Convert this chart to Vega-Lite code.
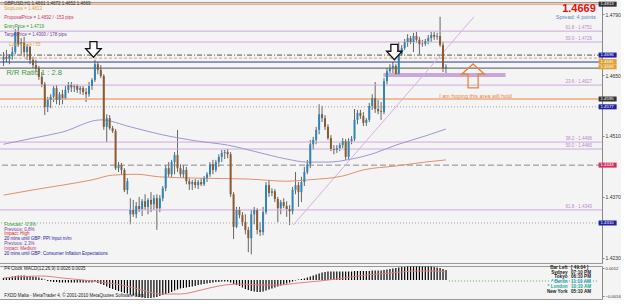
{
"$schema": "https://vega.github.io/schema/vega-lite/v6.json",
"background": "#f4f4f4",
"padding": {"left": -5, "top": 0, "right": 0, "bottom": 0},
"spacing": 0,
"resolve": {"scale": {"color": "independent"}},
"config": {"view": {"stroke": "#9a9a9a"}, "font": "Liberation Sans"},
"datasets": {
"candles": [
{"i":0,"o":1.4685,"h":1.4703,"l":1.4671,"c":1.4692,"m":0.0002},
{"i":1,"o":1.4692,"h":1.4708,"l":1.4680,"c":1.4687,"m":0.00025},
{"i":2,"o":1.4687,"h":1.4698,"l":1.4675,"c":1.4694,"m":0.0003},
{"i":3,"o":1.4694,"h":1.4715,"l":1.4685,"c":1.4703,"m":0.00035},
{"i":4,"o":1.4703,"h":1.4756,"l":1.4698,"c":1.4749,"m":0.0004},
{"i":5,"o":1.4749,"h":1.4761,"l":1.4715,"c":1.4721,"m":0.00045},
{"i":6,"o":1.4721,"h":1.4735,"l":1.4698,"c":1.4726,"m":0.00045},
{"i":7,"o":1.4726,"h":1.4738,"l":1.4692,"c":1.4703,"m":0.00045},
{"i":8,"o":1.4703,"h":1.4721,"l":1.4685,"c":1.4715,"m":0.0004},
{"i":9,"o":1.4715,"h":1.4717,"l":1.4675,"c":1.4685,"m":0.0004},
{"i":10,"o":1.4685,"h":1.4692,"l":1.4666,"c":1.4673,"m":0.00035},
{"i":11,"o":1.4673,"h":1.4685,"l":1.4657,"c":1.4666,"m":0.0003},
{"i":12,"o":1.4666,"h":1.4671,"l":1.4639,"c":1.4646,"m":0.00025},
{"i":13,"o":1.4646,"h":1.4657,"l":1.4622,"c":1.4629,"m":0.00015},
{"i":14,"o":1.4629,"h":1.4634,"l":1.4558,"c":1.4577,"m":0.00005},
{"i":15,"o":1.4577,"h":1.4600,"l":1.4565,"c":1.4593,"m":-0.0001},
{"i":16,"o":1.4593,"h":1.4606,"l":1.4574,"c":1.4600,"m":-0.00015},
{"i":17,"o":1.4600,"h":1.4625,"l":1.4588,"c":1.4620,"m":-0.0002},
{"i":18,"o":1.4620,"h":1.4627,"l":1.4583,"c":1.4593,"m":-0.0002},
{"i":19,"o":1.4593,"h":1.4611,"l":1.4581,"c":1.4606,"m":-0.00025},
{"i":20,"o":1.4606,"h":1.4616,"l":1.4583,"c":1.4597,"m":-0.00025},
{"i":21,"o":1.4597,"h":1.4625,"l":1.4593,"c":1.4616,"m":-0.00025},
{"i":22,"o":1.4616,"h":1.4634,"l":1.4609,"c":1.4627,"m":-0.00025},
{"i":23,"o":1.4627,"h":1.4634,"l":1.4611,"c":1.4622,"m":-0.00025},
{"i":24,"o":1.4622,"h":1.4629,"l":1.4611,"c":1.4625,"m":-0.00025},
{"i":25,"o":1.4625,"h":1.4629,"l":1.4609,"c":1.4616,"m":-0.00025},
{"i":26,"o":1.4616,"h":1.4625,"l":1.4606,"c":1.4620,"m":-0.00025},
{"i":27,"o":1.4620,"h":1.4625,"l":1.4604,"c":1.4611,"m":-0.00025},
{"i":28,"o":1.4611,"h":1.4620,"l":1.4588,"c":1.4606,"m":-0.00025},
{"i":29,"o":1.4606,"h":1.4634,"l":1.4600,"c":1.4625,"m":-0.00025},
{"i":30,"o":1.4625,"h":1.4643,"l":1.4616,"c":1.4639,"m":-0.00025},
{"i":31,"o":1.4639,"h":1.4685,"l":1.4634,"c":1.4675,"m":-0.0002},
{"i":32,"o":1.4675,"h":1.4680,"l":1.4652,"c":1.4662,"m":-0.0003},
{"i":33,"o":1.4662,"h":1.4673,"l":1.4643,"c":1.4648,"m":-0.0004},
{"i":34,"o":1.4648,"h":1.4652,"l":1.4524,"c":1.4531,"m":-0.0005},
{"i":35,"o":1.4531,"h":1.4560,"l":1.4496,"c":1.4551,"m":-0.00065},
{"i":36,"o":1.4551,"h":1.4558,"l":1.4524,"c":1.4528,"m":-0.0008},
{"i":37,"o":1.4528,"h":1.4533,"l":1.4517,"c":1.4521,"m":-0.0009},
{"i":38,"o":1.4521,"h":1.4526,"l":1.4432,"c":1.4436,"m":-0.001},
{"i":39,"o":1.4436,"h":1.4450,"l":1.4427,"c":1.4443,"m":-0.0011},
{"i":40,"o":1.4443,"h":1.4448,"l":1.4422,"c":1.4432,"m":-0.0012},
{"i":41,"o":1.4432,"h":1.4436,"l":1.4381,"c":1.4386,"m":-0.0013},
{"i":42,"o":1.4386,"h":1.4413,"l":1.4376,"c":1.4406,"m":-0.00135},
{"i":43,"o":1.4330,"h":1.4367,"l":1.4307,"c":1.4340,"m":-0.00145},
{"i":44,"o":1.4340,"h":1.4363,"l":1.4324,"c":1.4330,"m":-0.00155},
{"i":45,"o":1.4330,"h":1.4358,"l":1.4321,"c":1.4349,"m":-0.0016},
{"i":46,"o":1.4349,"h":1.4370,"l":1.4335,"c":1.4342,"m":-0.0017},
{"i":47,"o":1.4342,"h":1.4365,"l":1.4326,"c":1.4360,"m":-0.00175},
{"i":48,"o":1.4360,"h":1.4376,"l":1.4340,"c":1.4347,"m":-0.0018},
{"i":49,"o":1.4347,"h":1.4367,"l":1.4330,"c":1.4363,"m":-0.0018},
{"i":50,"o":1.4363,"h":1.4381,"l":1.4335,"c":1.4353,"m":-0.0018},
{"i":51,"o":1.4353,"h":1.4374,"l":1.4340,"c":1.4367,"m":-0.00175},
{"i":52,"o":1.4367,"h":1.4376,"l":1.4294,"c":1.4344,"m":-0.0017},
{"i":53,"o":1.4344,"h":1.4374,"l":1.4335,"c":1.4367,"m":-0.0016},
{"i":54,"o":1.4367,"h":1.4395,"l":1.4360,"c":1.4390,"m":-0.0015},
{"i":55,"o":1.4390,"h":1.4443,"l":1.4383,"c":1.4436,"m":-0.0014},
{"i":56,"o":1.4436,"h":1.4450,"l":1.4416,"c":1.4422,"m":-0.0013},
{"i":57,"o":1.4422,"h":1.4455,"l":1.4416,"c":1.4450,"m":-0.0012},
{"i":58,"o":1.4450,"h":1.4473,"l":1.4422,"c":1.4466,"m":-0.00105},
{"i":59,"o":1.4466,"h":1.4524,"l":1.4427,"c":1.4436,"m":-0.00095},
{"i":60,"o":1.4436,"h":1.4445,"l":1.4416,"c":1.4422,"m":-0.00085},
{"i":61,"o":1.4422,"h":1.4443,"l":1.4413,"c":1.4432,"m":-0.0008},
{"i":62,"o":1.4432,"h":1.4439,"l":1.4399,"c":1.4406,"m":-0.00075},
{"i":63,"o":1.4406,"h":1.4413,"l":1.4386,"c":1.4399,"m":-0.0007},
{"i":64,"o":1.4399,"h":1.4409,"l":1.4386,"c":1.4404,"m":-0.00065},
{"i":65,"o":1.4404,"h":1.4411,"l":1.4390,"c":1.4397,"m":-0.0006},
{"i":66,"o":1.4397,"h":1.4409,"l":1.4388,"c":1.4404,"m":-0.0005},
{"i":67,"o":1.4404,"h":1.4413,"l":1.4395,"c":1.4399,"m":-0.00045},
{"i":68,"o":1.4399,"h":1.4418,"l":1.4395,"c":1.4413,"m":-0.0004},
{"i":69,"o":1.4413,"h":1.4427,"l":1.4404,"c":1.4422,"m":-0.00035},
{"i":70,"o":1.4422,"h":1.4450,"l":1.4416,"c":1.4445,"m":-0.0003},
{"i":71,"o":1.4445,"h":1.4455,"l":1.4422,"c":1.4432,"m":-0.00025},
{"i":72,"o":1.4432,"h":1.4455,"l":1.4427,"c":1.4450,"m":-0.0002},
{"i":73,"o":1.4450,"h":1.4468,"l":1.4439,"c":1.4462,"m":-0.0002},
{"i":74,"o":1.4462,"h":1.4478,"l":1.4450,"c":1.4471,"m":-0.00015},
{"i":75,"o":1.4471,"h":1.4478,"l":1.4457,"c":1.4473,"m":-0.00015},
{"i":76,"o":1.4473,"h":1.4480,"l":1.4459,"c":1.4468,"m":-0.00015},
{"i":77,"o":1.4468,"h":1.4473,"l":1.4370,"c":1.4376,"m":-0.00025},
{"i":78,"o":1.4376,"h":1.4381,"l":1.4273,"c":1.4301,"m":-0.0004},
{"i":79,"o":1.4301,"h":1.4347,"l":1.4298,"c":1.4340,"m":-0.0005},
{"i":80,"o":1.4340,"h":1.4347,"l":1.4321,"c":1.4328,"m":-0.0006},
{"i":81,"o":1.4328,"h":1.4335,"l":1.4303,"c":1.4312,"m":-0.00075},
{"i":82,"o":1.4312,"h":1.4330,"l":1.4284,"c":1.4294,"m":-0.0009},
{"i":83,"o":1.4294,"h":1.4301,"l":1.4243,"c":1.4275,"m":-0.001},
{"i":84,"o":1.4275,"h":1.4340,"l":1.4238,"c":1.4330,"m":-0.0011},
{"i":85,"o":1.4330,"h":1.4347,"l":1.4307,"c":1.4340,"m":-0.00115},
{"i":86,"o":1.4340,"h":1.4344,"l":1.4284,"c":1.4294,"m":-0.0012},
{"i":87,"o":1.4294,"h":1.4312,"l":1.4280,"c":1.4289,"m":-0.0012},
{"i":88,"o":1.4289,"h":1.4347,"l":1.4282,"c":1.4335,"m":-0.00115},
{"i":89,"o":1.4335,"h":1.4404,"l":1.4330,"c":1.4397,"m":-0.00105},
{"i":90,"o":1.4397,"h":1.4409,"l":1.4370,"c":1.4379,"m":-0.00095},
{"i":91,"o":1.4379,"h":1.4390,"l":1.4372,"c":1.4383,"m":-0.00085},
{"i":92,"o":1.4383,"h":1.4388,"l":1.4358,"c":1.4365,"m":-0.00075},
{"i":93,"o":1.4365,"h":1.4370,"l":1.4312,"c":1.4344,"m":-0.00065},
{"i":94,"o":1.4344,"h":1.4363,"l":1.4330,"c":1.4358,"m":-0.00055},
{"i":95,"o":1.4358,"h":1.4367,"l":1.4344,"c":1.4349,"m":-0.00045},
{"i":96,"o":1.4349,"h":1.4360,"l":1.4324,"c":1.4342,"m":-0.00035},
{"i":97,"o":1.4342,"h":1.4351,"l":1.4305,"c":1.4337,"m":-0.00025},
{"i":98,"o":1.4337,"h":1.4393,"l":1.4330,"c":1.4386,"m":-0.00015},
{"i":99,"o":1.4386,"h":1.4427,"l":1.4376,"c":1.4397,"m":-0.00005},
{"i":100,"o":1.4397,"h":1.4404,"l":1.4347,"c":1.4381,"m":0.00005},
{"i":101,"o":1.4381,"h":1.4416,"l":1.4358,"c":1.4404,"m":0.0001},
{"i":102,"o":1.4404,"h":1.4439,"l":1.4395,"c":1.4427,"m":0.00015},
{"i":103,"o":1.4427,"h":1.4455,"l":1.4422,"c":1.4445,"m":0.00025},
{"i":104,"o":1.4445,"h":1.4501,"l":1.4436,"c":1.4491,"m":0.00035},
{"i":105,"o":1.4491,"h":1.4508,"l":1.4478,"c":1.4501,"m":0.00045},
{"i":106,"o":1.4501,"h":1.4531,"l":1.4491,"c":1.4524,"m":0.00055},
{"i":107,"o":1.4524,"h":1.4583,"l":1.4514,"c":1.4560,"m":0.00065},
{"i":108,"o":1.4560,"h":1.4579,"l":1.4542,"c":1.4551,"m":0.00075},
{"i":109,"o":1.4551,"h":1.4558,"l":1.4524,"c":1.4531,"m":0.0008},
{"i":110,"o":1.4531,"h":1.4537,"l":1.4501,"c":1.4505,"m":0.00085},
{"i":111,"o":1.4505,"h":1.4512,"l":1.4475,"c":1.4480,"m":0.00085},
{"i":112,"o":1.4480,"h":1.4489,"l":1.4468,"c":1.4478,"m":0.00085},
{"i":113,"o":1.4478,"h":1.4489,"l":1.4471,"c":1.4482,"m":0.00085},
{"i":114,"o":1.4482,"h":1.4494,"l":1.4475,"c":1.4489,"m":0.00085},
{"i":115,"o":1.4489,"h":1.4505,"l":1.4482,"c":1.4498,"m":0.00085},
{"i":116,"o":1.4498,"h":1.4503,"l":1.4455,"c":1.4462,"m":0.00085},
{"i":117,"o":1.4462,"h":1.4505,"l":1.4457,"c":1.4498,"m":0.00085},
{"i":118,"o":1.4498,"h":1.4510,"l":1.4491,"c":1.4503,"m":0.00085},
{"i":119,"o":1.4503,"h":1.4572,"l":1.4498,"c":1.4547,"m":0.0009},
{"i":120,"o":1.4547,"h":1.4570,"l":1.4537,"c":1.4563,"m":0.0009},
{"i":121,"o":1.4563,"h":1.4570,"l":1.4549,"c":1.4556,"m":0.0009},
{"i":122,"o":1.4556,"h":1.4565,"l":1.4533,"c":1.4540,"m":0.0009},
{"i":123,"o":1.4540,"h":1.4551,"l":1.4533,"c":1.4547,"m":0.0009},
{"i":124,"o":1.4547,"h":1.4586,"l":1.4542,"c":1.4579,"m":0.0009},
{"i":125,"o":1.4579,"h":1.4606,"l":1.4570,"c":1.4597,"m":0.00095},
{"i":126,"o":1.4597,"h":1.4634,"l":1.4563,"c":1.4572,"m":0.00095},
{"i":127,"o":1.4572,"h":1.4593,"l":1.4560,"c":1.4567,"m":0.00095},
{"i":128,"o":1.4567,"h":1.4588,"l":1.4547,"c":1.4565,"m":0.00095},
{"i":129,"o":1.4565,"h":1.4643,"l":1.4560,"c":1.4636,"m":0.001},
{"i":130,"o":1.4636,"h":1.4666,"l":1.4629,"c":1.4659,"m":0.00105},
{"i":131,"o":1.4659,"h":1.4675,"l":1.4648,"c":1.4666,"m":0.0011},
{"i":132,"o":1.4666,"h":1.4680,"l":1.4652,"c":1.4671,"m":0.00115},
{"i":133,"o":1.4671,"h":1.4675,"l":1.4648,"c":1.4652,"m":0.0012},
{"i":134,"o":1.4652,"h":1.4726,"l":1.4648,"c":1.4698,"m":0.00125},
{"i":135,"o":1.4698,"h":1.4719,"l":1.4694,"c":1.4712,"m":0.0013},
{"i":136,"o":1.4712,"h":1.4733,"l":1.4708,"c":1.4726,"m":0.0013},
{"i":137,"o":1.4726,"h":1.4744,"l":1.4715,"c":1.4735,"m":0.00135},
{"i":138,"o":1.4735,"h":1.4740,"l":1.4721,"c":1.4726,"m":0.00135},
{"i":139,"o":1.4726,"h":1.4747,"l":1.4703,"c":1.4740,"m":0.00135},
{"i":140,"o":1.4740,"h":1.4749,"l":1.4724,"c":1.4731,"m":0.00135},
{"i":141,"o":1.4731,"h":1.4738,"l":1.4698,"c":1.4721,"m":0.00135},
{"i":142,"o":1.4721,"h":1.4731,"l":1.4715,"c":1.4722,"m":0.00135},
{"i":143,"o":1.4722,"h":1.4733,"l":1.4717,"c":1.4728,"m":0.00135},
{"i":144,"o":1.4728,"h":1.4742,"l":1.4721,"c":1.4735,"m":0.00135},
{"i":145,"o":1.4735,"h":1.4749,"l":1.4726,"c":1.4742,"m":0.00135},
{"i":146,"o":1.4742,"h":1.4749,"l":1.4731,"c":1.4738,"m":0.0013},
{"i":147,"o":1.4738,"h":1.4747,"l":1.4731,"c":1.4740,"m":0.00125},
{"i":148,"o":1.4740,"h":1.4784,"l":1.4715,"c":1.4719,"m":0.0012},
{"i":149,"o":1.4719,"h":1.4726,"l":1.4657,"c":1.4666,"m":0.0011},
{"i":150,"o":1.4666,"h":1.4675,"l":1.4646,"c":1.4669,"m":0.001}
],
"signal": [
{"i":0,"s":0.0002},{"i":7,"s":0.00035},{"i":13,"s":0.0004},{"i":20,"s":0.0002},{"i":27,"s":0},{"i":33,"s":-0.0002},{"i":40,"s":-0.0005},{"i":47,"s":-0.001},{"i":53,"s":-0.0014},{"i":60,"s":-0.0014},{"i":67,"s":-0.001},{"i":73,"s":-0.0006},{"i":80,"s":-0.0004},{"i":87,"s":-0.0005},{"i":93,"s":-0.0005},{"i":100,"s":-0.0003},{"i":107,"s":-0.0001},{"i":113,"s":0.0001},{"i":120,"s":0.0004},{"i":127,"s":0.0006},{"i":133,"s":0.00075},{"i":140,"s":0.0009},{"i":146,"s":0.0009},{"i":150,"s":0.0008}
],
"maSlow": [
{"i":0,"p":1.4491},{"i":10,"p":1.4505},{"i":20,"p":1.4519},{"i":33,"p":1.4547},{"i":43,"p":1.4531},{"i":53,"p":1.4514},{"i":66,"p":1.4498},{"i":76,"p":1.4489},{"i":86,"p":1.4473},{"i":96,"p":1.4457},{"i":103,"p":1.4450},{"i":110,"p":1.4450},{"i":118,"p":1.4457},{"i":126,"p":1.4471},{"i":133,"p":1.4489},{"i":143,"p":1.4510},{"i":150,"p":1.4526}
],
"maOrange": [
{"i":0,"p":1.4374},{"i":10,"p":1.4386},{"i":20,"p":1.4397},{"i":30,"p":1.4409},{"i":37,"p":1.4420},{"i":45,"p":1.4422},{"i":53,"p":1.4416},{"i":66,"p":1.4413},{"i":83,"p":1.4411},{"i":96,"p":1.4406},{"i":103,"p":1.4409},{"i":115,"p":1.4418},{"i":122,"p":1.4432},{"i":133,"p":1.4441},{"i":143,"p":1.4450},{"i":150,"p":1.4455}
],
"leftText": [
{"t":"GBPUSD,H1  1.4661 1.4672 1.4652 1.4669","i":0.3,"p":1.4813,"k":"a"},
{"t":"StopLoss = 1.4813","i":0.3,"p":1.4801,"k":"b"},
{"t":"ProposalPrice = 1.4692 / -153 pips","i":0.3,"p":1.4781,"k":"c"},
{"t":"EntryPrice = 1.4719","i":0.3,"p":1.4761,"k":"d"},
{"t":"TargetPrice = 1.4300 / 178 pips","i":0.3,"p":1.4742,"k":"e"},
{"t":"Lots = 0.14 / 55","i":2,"p":1.4719,"k":"b"},
{"t":"Forecast: -0.9%","i":0.3,"p":1.4305,"k":"d"},
{"t":"Previous: 0.8%","i":0.3,"p":1.4294,"k":"e"},
{"t":"Impact: High","i":0.3,"p":1.4284,"k":"f"},
{"t":"20 mins until GBP: PPI Input m/m","i":0.3,"p":1.4273,"k":"g"},
{"t":"Previous: 2.3%","i":0.3,"p":1.4261,"k":"e"},
{"t":"Impact: Medium","i":0.3,"p":1.4250,"k":"c"},
{"t":"20 mins until GBP: Consumer Inflation Expectations","i":0.3,"p":1.4238,"k":"g"}
],
"fibText": [
{"t":"61.8 - 1.4751","i":199.5,"p":1.4758},
{"t":"50.0 - 1.4726","i":199.5,"p":1.4733},
{"t":"23.6 - 1.4627","i":199.5,"p":1.4634},
{"t":"38.2 - 1.4496","i":199.5,"p":1.4503},
{"t":"50.0 - 1.4480","i":199.5,"p":1.4487},
{"t":"61.8 - 1.4340","i":199.5,"p":1.4347}
],
"priceTags": [
{"p":1.4813,"k":"o"},{"p":1.4696,"k":"g"},{"p":1.4681,"k":"b"},{"p":1.4669,"k":"k"},{"p":1.4595,"k":"o"},{"p":1.4577,"k":"g"},{"p":1.4443,"k":"s"},{"p":1.4310,"k":"g"}
],
"clock": [
{"n":"Bar Left","v":"[ 49:04 ]","m":0.0012,"k":"a"},
{"n":"Sydney","v":"07:10 PM","m":0.00075,"k":"a"},
{"n":"Tokyo","v":"06:10 PM","m":0.0003,"k":"a"},
{"n":"* Berlin","v":"11:10 AM","m":-0.0002,"k":"b"},
{"n":"* London","v":"10:10 AM","m":-0.0007,"k":"c"},
{"n":"New York","v":"05:10 AM","m":-0.0012,"k":"a"}
]
},
"vconcat": [
{
"width": 605, "height": 261,
"layer": [
{"data": {"name":"candles"},
 "mark": {"type":"rule","color":"#666666","strokeWidth":1},
 "encoding": {"x":{"field":"i","type":"quantitative","scale":{"domain":[-0.5,201.2],"nice":false,"zero":false},"axis":null},
  "y":{"field":"l","type":"quantitative","scale":{"domain":[1.4218,1.4818],"zero":false,"nice":false},"axis":{"orient":"right","values":[1.4790,1.4755,1.4720,1.4685,1.4650,1.4615,1.4580,1.4545,1.4510,1.4475,1.4440,1.4405,1.4370,1.4335,1.4300,1.4265,1.4230],"format":".4f","title":null,"labelOverlap":false,"labelFontSize":5,"tickSize":2,"labelPadding":1,"grid":false,"domainColor":"#888","tickColor":"#888","labelColor":"#333"}},"y2":{"field":"h"}}},
{"data": {"values": [{"p":1.4751},{"p":1.4726},{"p":1.4627},{"p":1.4496},{"p":1.4480},{"p":1.4340}]},
 "mark": {"type":"rule","color":"#cfa8dc","strokeWidth":1},
 "encoding": {"y":{"field":"p","type":"quantitative"}}},
{"data": {"values": [{"p":1.4813},{"p":1.4595}]},
 "mark": {"type":"rule","color":"#eeaa80","strokeWidth":1.5},
 "encoding": {"y":{"field":"p","type":"quantitative"}}},
{"data": {"values": [{"p":1.4696}]},
 "mark": {"type":"rule","color":"#555555","strokeWidth":1,"strokeDash":[5,2,1,2]},
 "encoding": {"y":{"field":"p","type":"quantitative"}}},
{"data": {"values": [{"p":1.4689}]},
 "mark": {"type":"rule","color":"#d9a066","strokeWidth":1,"strokeDash":[3,2]},
 "encoding": {"y":{"field":"p","type":"quantitative"}}},
{"data": {"values": [{"p":1.4680}]},
 "mark": {"type":"rule","color":"#1f3fa0","strokeWidth":1},
 "encoding": {"y":{"field":"p","type":"quantitative"}}},
{"data": {"values": [{"p":1.4666}]},
 "mark": {"type":"rule","color":"#555555","strokeWidth":1},
 "encoding": {"y":{"field":"p","type":"quantitative"}}},
{"data": {"values": [{"p":1.4577},{"p":1.4310}]},
 "mark": {"type":"rule","color":"#a0a0a0","strokeWidth":1,"strokeDash":[1,2]},
 "encoding": {"y":{"field":"p","type":"quantitative"}}},
{"data": {"values": [{"p":1.4443}]},
 "mark": {"type":"rule","color":"#8a8a8a","strokeWidth":1,"strokeDash":[6,3]},
 "encoding": {"y":{"field":"p","type":"quantitative"}}},
{"data": {"values": [{"a":128.8,"b":170.2,"p":1.4650}]},
 "mark": {"type":"rule","color":"#c9a7d9","strokeWidth":4},
 "encoding": {"x":{"field":"a","type":"quantitative","axis":null},"x2":{"field":"b"},"y":{"field":"p","type":"quantitative"}}},
{"data": {"values": [{"i":98.2,"p":1.4305},{"i":159.5,"p":1.4784}]},
 "mark": {"type":"line","color":"#dcaee6","strokeWidth":1},
 "encoding": {"x":{"field":"i","type":"quantitative","axis":null},"y":{"field":"p","type":"quantitative"}}},
{"data": {"name":"maSlow"},
 "mark": {"type":"line","color":"#a196d0","strokeWidth":1,"interpolate":"monotone"},
 "encoding": {"x":{"field":"i","type":"quantitative","axis":null},"y":{"field":"p","type":"quantitative"}}},
{"data": {"name":"maOrange"},
 "mark": {"type":"line","color":"#e0906e","strokeWidth":1,"interpolate":"monotone"},
 "encoding": {"x":{"field":"i","type":"quantitative","axis":null},"y":{"field":"p","type":"quantitative"}}},
{"data": {"name":"candles"},
 "mark": {"type":"bar","size":2},
 "encoding": {"x":{"field":"i","type":"quantitative","axis":null},"y":{"field":"o","type":"quantitative"},"y2":{"field":"c"},
  "color":{"condition":{"test":"datum.c >= datum.o","value":"#2f86b6"},"value":"#8a5a30"}}},
{"data": {"values": [{"i":30.5,"p":1.4709},{"i":132.5,"p":1.4703}]},
 "mark": {"type":"point","shape":"M-0.45,-1 L0.45,-1 L0.45,-0.1 L1,-0.1 L0,1 L-1,-0.1 L-0.45,-0.1 Z","size":240,"filled":true,"fill":"#ffffff","stroke":"#111111","strokeWidth":1.3,"opacity":1},
 "encoding": {"x":{"field":"i","type":"quantitative","axis":null},"y":{"field":"p","type":"quantitative"}}},
{"data": {"values": [{"i":159.2,"p":1.4648}]},
 "mark": {"type":"point","shape":"M0,-1 L0.95,-0.15 L0.42,-0.15 L0.42,1 L-0.42,1 L-0.42,-0.15 L-0.95,-0.15 Z","size":576,"filled":false,"stroke":"#e8843a","strokeWidth":1.3,"opacity":1},
 "encoding": {"x":{"field":"i","type":"quantitative","axis":null},"y":{"field":"p","type":"quantitative"}}},
{"data": {"name":"leftText"},
 "mark": {"type":"text","align":"left","baseline":"middle","fontSize":4.5},
 "encoding": {"x":{"field":"i","type":"quantitative","axis":null},"y":{"field":"p","type":"quantitative"},"text":{"field":"t"},
  "color":{"field":"k","type":"nominal","legend":null,"scale":{"domain":["a","b","c","d","e","f","g"],"range":["#333333","#e0a030","#d03060","#2a9a2a","#7a3a9a","#e02020","#2020a0"]}}}},
{"data": {"values": [{"t":"R/R Ratio  1 : 2.8","i":1,"p":1.4655}]},
 "mark": {"type":"text","align":"left","baseline":"middle","fontSize":7.5,"color":"#3a9a3a"},
 "encoding": {"x":{"field":"i","type":"quantitative","axis":null},"y":{"field":"p","type":"quantitative"},"text":{"field":"t"}}},
{"data": {"name":"fibText"},
 "mark": {"type":"text","align":"right","baseline":"middle","fontSize":4.5,"color":"#b88ac8"},
 "encoding": {"x":{"field":"i","type":"quantitative","axis":null},"y":{"field":"p","type":"quantitative"},"text":{"field":"t"}}},
{"data": {"values": [{"t":"1.4669","i":200.8,"p":1.4801}]},
 "mark": {"type":"text","align":"right","baseline":"middle","fontSize":11,"fontWeight":"bold","color":"#e01010"},
 "encoding": {"x":{"field":"i","type":"quantitative","axis":null},"y":{"field":"p","type":"quantitative"},"text":{"field":"t"}}},
{"data": {"values": [{"t":"Spread: 4 points","i":200.8,"p":1.4784}]},
 "mark": {"type":"text","align":"right","baseline":"middle","fontSize":5.5,"color":"#5a88b8"},
 "encoding": {"x":{"field":"i","type":"quantitative","axis":null},"y":{"field":"p","type":"quantitative"},"text":{"field":"t"}}},
{"data": {"values": [{"t":"I am hoping this area will hold","i":160,"p":1.4603}]},
 "mark": {"type":"text","align":"center","baseline":"middle","fontSize":5.5,"color":"#e8843a"},
 "encoding": {"x":{"field":"i","type":"quantitative","axis":null},"y":{"field":"p","type":"quantitative"},"text":{"field":"t"}}},
{"data": {"name":"priceTags"},
 "mark": {"type":"tick","orient":"horizontal","size":18,"thickness":5,"opacity":1},
 "encoding": {"x":{"datum":204.8,"type":"quantitative","axis":null},"y":{"field":"p","type":"quantitative"},
  "color":{"field":"k","type":"nominal","legend":null,"scale":{"domain":["o","g","b","k","s"],"range":["#f08a50","#a8a8a8","#2a50c8","#000000","#7f90a8"]}}}},
{"data": {"name":"priceTags"},
 "mark": {"type":"text","align":"left","baseline":"middle","fontSize":4.3,"color":"#ffffff"},
 "encoding": {"x":{"datum":202.4,"type":"quantitative","axis":null},"y":{"field":"p","type":"quantitative"},"text":{"field":"p","type":"quantitative","format":".4f"}}}
]
},
{
"width": 605, "height": 33,
"layer": [
{"data": {"name":"candles"},
 "mark": {"type":"bar","size":1.2,"color":"#000000"},
 "encoding": {"x":{"field":"i","type":"quantitative","scale":{"domain":[-0.5,201.2],"nice":false,"zero":false},
   "axis":{"orient":"bottom","values":[0,7,15,23,31,39,47,55,63,71,79,87,95,103,111,119,127,135,143],"labelExpr":"['2 Jun 2010','3 Jun 12:00','3 Jun 20:00','4 Jun 04:00','4 Jun 12:00','4 Jun 20:00','7 Jun 05:00','7 Jun 13:00','7 Jun 21:00','8 Jun 05:00','8 Jun 13:00','8 Jun 21:00','9 Jun 05:00','9 Jun 13:00','9 Jun 21:00','10 Jun 05:00','10 Jun 13:00','10 Jun 21:00','11 Jun 05:00'][indexof([0,7,15,23,31,39,47,55,63,71,79,87,95,103,111,119,127,135,143], datum.value)]","labelAlign":"left","labelBaseline":"top","labelFontSize":4.6,"labelPadding":1,"tickSize":2,"labelOverlap":false,"labelFlush":false,"grid":false,"title":null,"domainColor":"#888","tickColor":"#888","labelColor":"#333"}},
  "y":{"field":"m","type":"quantitative","scale":{"domain":[-0.0019,0.0014],"nice":false,"zero":false},"axis":{"orient":"right","values":[0.0012,-0.0016],"format":".4f","title":null,"labelFontSize":4.2,"labelOverlap":false,"tickSize":2,"labelPadding":1,"grid":false,"domainColor":"#888","tickColor":"#888","labelColor":"#333"}},
  "y2":{"datum":0}}},
{"data": {"name":"signal"},
 "mark": {"type":"line","color":"#e08080","strokeWidth":1,"interpolate":"monotone"},
 "encoding": {"x":{"field":"i","type":"quantitative","axis":null},"y":{"field":"s","type":"quantitative"}}},
{"data": {"values": [{"a":151,"b":201.2,"m":-0.0001}]},
 "mark": {"type":"rule","color":"#44bb44","strokeWidth":1,"strokeDash":[1,2]},
 "encoding": {"x":{"field":"a","type":"quantitative","axis":null},"x2":{"field":"b"},"y":{"field":"m","type":"quantitative"}}},
{"data": {"values": [{"t":"P4 Clock","i":0.3,"m":0.0011},{"t":"MACD(12,26,9) 0.0026 0.0035","i":7,"m":0.0011},{"t":"FXDD Malta - MetaTrader 4, © 2001-2010 MetaQuotes Software Corp.","i":0.3,"m":-0.0016}]},
 "mark": {"type":"text","align":"left","baseline":"middle","fontSize":4.5,"color":"#222222"},
 "encoding": {"x":{"field":"i","type":"quantitative","axis":null},"y":{"field":"m","type":"quantitative"},"text":{"field":"t"}}},
{"data": {"name":"clock"},
 "mark": {"type":"text","align":"right","baseline":"middle","fontSize":4.6,"fontWeight":"bold"},
 "encoding": {"x":{"datum":191.2,"type":"quantitative","axis":null},"y":{"field":"m","type":"quantitative"},"text":{"field":"n"},
  "color":{"field":"k","type":"nominal","legend":null,"scale":{"domain":["a","b","c"],"range":["#222222","#20a0c0","#20a890"]}}}},
{"data": {"name":"clock"},
 "mark": {"type":"text","align":"left","baseline":"middle","fontSize":4.6,"fontWeight":"bold"},
 "encoding": {"x":{"datum":192.4,"type":"quantitative","axis":null},"y":{"field":"m","type":"quantitative"},"text":{"field":"v"},
  "color":{"field":"k","type":"nominal","legend":null,"scale":{"domain":["a","b","c"],"range":["#222222","#20a0c0","#20a890"]}}}}
]
}
]
}
